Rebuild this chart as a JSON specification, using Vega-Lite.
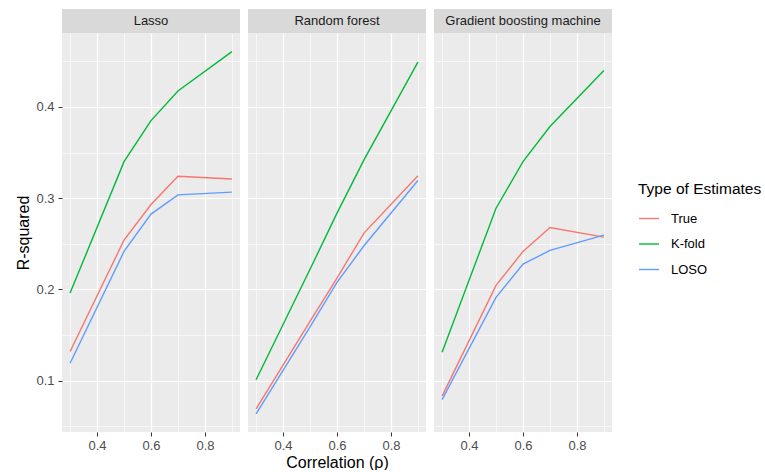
{
  "$schema": "https://vega.github.io/schema/vega-lite/v6.json",
  "padding": {"left": 15, "top": 9, "right": 0, "bottom": 0},
  "background": "white",
  "datasets": {
    "results": [
      {"model": "Lasso", "type": "True", "rho": 0.3, "r2": 0.132},
      {"model": "Lasso", "type": "True", "rho": 0.5, "r2": 0.254},
      {"model": "Lasso", "type": "True", "rho": 0.6, "r2": 0.293},
      {"model": "Lasso", "type": "True", "rho": 0.7, "r2": 0.324},
      {"model": "Lasso", "type": "True", "rho": 0.9, "r2": 0.321},
      {"model": "Lasso", "type": "K-fold", "rho": 0.3, "r2": 0.196},
      {"model": "Lasso", "type": "K-fold", "rho": 0.5, "r2": 0.340},
      {"model": "Lasso", "type": "K-fold", "rho": 0.6, "r2": 0.385},
      {"model": "Lasso", "type": "K-fold", "rho": 0.7, "r2": 0.4175},
      {"model": "Lasso", "type": "K-fold", "rho": 0.9, "r2": 0.4606},
      {"model": "Lasso", "type": "LOSO", "rho": 0.3, "r2": 0.119},
      {"model": "Lasso", "type": "LOSO", "rho": 0.5, "r2": 0.2416},
      {"model": "Lasso", "type": "LOSO", "rho": 0.6, "r2": 0.2825},
      {"model": "Lasso", "type": "LOSO", "rho": 0.7, "r2": 0.3036},
      {"model": "Lasso", "type": "LOSO", "rho": 0.9, "r2": 0.3066},
      {"model": "Random forest", "type": "True", "rho": 0.3, "r2": 0.069},
      {"model": "Random forest", "type": "True", "rho": 0.5, "r2": 0.165},
      {"model": "Random forest", "type": "True", "rho": 0.6, "r2": 0.2124},
      {"model": "Random forest", "type": "True", "rho": 0.7, "r2": 0.2617},
      {"model": "Random forest", "type": "True", "rho": 0.9, "r2": 0.3245},
      {"model": "Random forest", "type": "K-fold", "rho": 0.3, "r2": 0.101},
      {"model": "Random forest", "type": "K-fold", "rho": 0.5, "r2": 0.222},
      {"model": "Random forest", "type": "K-fold", "rho": 0.6, "r2": 0.2836},
      {"model": "Random forest", "type": "K-fold", "rho": 0.7, "r2": 0.342},
      {"model": "Random forest", "type": "K-fold", "rho": 0.9, "r2": 0.449},
      {"model": "Random forest", "type": "LOSO", "rho": 0.3, "r2": 0.0635},
      {"model": "Random forest", "type": "LOSO", "rho": 0.5, "r2": 0.159},
      {"model": "Random forest", "type": "LOSO", "rho": 0.6, "r2": 0.2077},
      {"model": "Random forest", "type": "LOSO", "rho": 0.7, "r2": 0.2478},
      {"model": "Random forest", "type": "LOSO", "rho": 0.9, "r2": 0.3193},
      {"model": "Gradient boosting machine", "type": "True", "rho": 0.3, "r2": 0.083},
      {"model": "Gradient boosting machine", "type": "True", "rho": 0.5, "r2": 0.2044},
      {"model": "Gradient boosting machine", "type": "True", "rho": 0.6, "r2": 0.2416},
      {"model": "Gradient boosting machine", "type": "True", "rho": 0.7, "r2": 0.2679},
      {"model": "Gradient boosting machine", "type": "True", "rho": 0.9, "r2": 0.2573},
      {"model": "Gradient boosting machine", "type": "K-fold", "rho": 0.3, "r2": 0.131},
      {"model": "Gradient boosting machine", "type": "K-fold", "rho": 0.5, "r2": 0.289},
      {"model": "Gradient boosting machine", "type": "K-fold", "rho": 0.6, "r2": 0.340},
      {"model": "Gradient boosting machine", "type": "K-fold", "rho": 0.7, "r2": 0.3785},
      {"model": "Gradient boosting machine", "type": "K-fold", "rho": 0.9, "r2": 0.440},
      {"model": "Gradient boosting machine", "type": "LOSO", "rho": 0.3, "r2": 0.0792},
      {"model": "Gradient boosting machine", "type": "LOSO", "rho": 0.5, "r2": 0.1912},
      {"model": "Gradient boosting machine", "type": "LOSO", "rho": 0.6, "r2": 0.2277},
      {"model": "Gradient boosting machine", "type": "LOSO", "rho": 0.7, "r2": 0.2427},
      {"model": "Gradient boosting machine", "type": "LOSO", "rho": 0.9, "r2": 0.2595}
    ]
  },
  "config": {
    "font": "Liberation Sans",
    "view": {"stroke": null},
    "axis": {
      "domain": false,
      "gridColor": "white",
      "gridOpacity": 1,
      "tickColor": "#333333",
      "tickWidth": 1,
      "tickSize": 4,
      "labelColor": "#4D4D4D",
      "labelFontSize": 13,
      "labelPadding": 3,
      "titleFontSize": 16,
      "titleFontWeight": "normal",
      "titleColor": "black"
    },
    "legend": {
      "orient": "none",
      "legendX": 576,
      "legendY": 173,
      "titleFontSize": 15.5,
      "titleFontWeight": "normal",
      "titleColor": "black",
      "titlePadding": 10,
      "labelFontSize": 13,
      "labelColor": "black",
      "labelOffset": 11,
      "symbolType": "stroke",
      "symbolSize": 400,
      "symbolStrokeWidth": 1.4,
      "rowPadding": 7.5
    }
  },
  "spacing": 8,
  "hconcat": [
    {
      "spacing": 0,
      "vconcat": [
        {
          "data": {"values": [{"model": "Lasso"}]},
          "width": 178, "height": 24,
          "view": {"fill": "#D9D9D9", "stroke": null},
          "mark": {"type": "text", "fontSize": 13, "color": "#1A1A1A"},
          "encoding": {"text": {"field": "model"}}
        },
        {
          "data": {"name": "results"},
          "transform": [{"filter": "datum.model === 'Lasso'"}],
          "width": 178, "height": 399,
          "view": {"fill": "#EBEBEB", "stroke": null},
          "mark": {"type": "line", "strokeWidth": 1.4},
          "encoding": {
            "x": {"field": "rho", "type": "quantitative",
              "scale": {"domain": [0.27, 0.93], "nice": false, "zero": false},
              "axis": {"title": null, "values": [0.3, 0.4, 0.5, 0.6, 0.7, 0.8, 0.9], "format": ".1f",
                "labelExpr": "abs(datum.value*5 - round(datum.value*5)) < 0.01 ? datum.label : ''",
                "tickOpacity": {"condition": {"test": "abs(datum.value*5 - round(datum.value*5)) < 0.01", "value": 1}, "value": 0},
                "gridWidth": {"condition": {"test": "abs(datum.value*5 - round(datum.value*5)) < 0.01", "value": 1.2}, "value": 0.6}}},
            "y": {"field": "r2", "type": "quantitative",
              "scale": {"domain": [0.0437, 0.481], "nice": false, "zero": false},
              "axis": {"title": "R-squared", "titlePadding": 4, "labelPadding": 4,
                "values": [0.05, 0.1, 0.15, 0.2, 0.25, 0.3, 0.35, 0.4, 0.45], "format": ".1f",
                "labelExpr": "abs(datum.value*10 - round(datum.value*10)) < 0.01 ? datum.label : ''",
                "tickOpacity": {"condition": {"test": "abs(datum.value*10 - round(datum.value*10)) < 0.01", "value": 1}, "value": 0},
                "gridWidth": {"condition": {"test": "abs(datum.value*10 - round(datum.value*10)) < 0.01", "value": 1.2}, "value": 0.6}}},
            "color": {"field": "type", "type": "nominal", "title": "Type of Estimates",
              "scale": {"domain": ["True", "K-fold", "LOSO"], "range": ["#F8766D", "#00BA38", "#619CFF"]}}
          }
        }
      ]
    },
    {
      "spacing": 0,
      "vconcat": [
        {
          "data": {"values": [{"model": "Random forest"}]},
          "width": 178, "height": 24,
          "view": {"fill": "#D9D9D9", "stroke": null},
          "mark": {"type": "text", "fontSize": 13, "color": "#1A1A1A"},
          "encoding": {"text": {"field": "model"}}
        },
        {
          "data": {"name": "results"},
          "transform": [{"filter": "datum.model === 'Random forest'"}],
          "width": 178, "height": 399,
          "view": {"fill": "#EBEBEB", "stroke": null},
          "mark": {"type": "line", "strokeWidth": 1.4},
          "encoding": {
            "x": {"field": "rho", "type": "quantitative",
              "scale": {"domain": [0.27, 0.93], "nice": false, "zero": false},
              "axis": {"title": "Correlation (ρ)", "titlePadding": 2, "values": [0.3, 0.4, 0.5, 0.6, 0.7, 0.8, 0.9], "format": ".1f",
                "labelExpr": "abs(datum.value*5 - round(datum.value*5)) < 0.01 ? datum.label : ''",
                "tickOpacity": {"condition": {"test": "abs(datum.value*5 - round(datum.value*5)) < 0.01", "value": 1}, "value": 0},
                "gridWidth": {"condition": {"test": "abs(datum.value*5 - round(datum.value*5)) < 0.01", "value": 1.2}, "value": 0.6}}},
            "y": {"field": "r2", "type": "quantitative",
              "scale": {"domain": [0.0437, 0.481], "nice": false, "zero": false},
              "axis": {"title": null, "labels": false, "ticks": false,
                "values": [0.05, 0.1, 0.15, 0.2, 0.25, 0.3, 0.35, 0.4, 0.45],
                "gridWidth": {"condition": {"test": "abs(datum.value*10 - round(datum.value*10)) < 0.01", "value": 1.2}, "value": 0.6}}},
            "color": {"field": "type", "type": "nominal", "title": "Type of Estimates",
              "scale": {"domain": ["True", "K-fold", "LOSO"], "range": ["#F8766D", "#00BA38", "#619CFF"]}}
          }
        }
      ]
    },
    {
      "spacing": 0,
      "vconcat": [
        {
          "data": {"values": [{"model": "Gradient boosting machine"}]},
          "width": 178, "height": 24,
          "view": {"fill": "#D9D9D9", "stroke": null},
          "mark": {"type": "text", "fontSize": 13, "color": "#1A1A1A"},
          "encoding": {"text": {"field": "model"}}
        },
        {
          "data": {"name": "results"},
          "transform": [{"filter": "datum.model === 'Gradient boosting machine'"}],
          "width": 178, "height": 399,
          "view": {"fill": "#EBEBEB", "stroke": null},
          "mark": {"type": "line", "strokeWidth": 1.4},
          "encoding": {
            "x": {"field": "rho", "type": "quantitative",
              "scale": {"domain": [0.27, 0.93], "nice": false, "zero": false},
              "axis": {"title": null, "values": [0.3, 0.4, 0.5, 0.6, 0.7, 0.8, 0.9], "format": ".1f",
                "labelExpr": "abs(datum.value*5 - round(datum.value*5)) < 0.01 ? datum.label : ''",
                "tickOpacity": {"condition": {"test": "abs(datum.value*5 - round(datum.value*5)) < 0.01", "value": 1}, "value": 0},
                "gridWidth": {"condition": {"test": "abs(datum.value*5 - round(datum.value*5)) < 0.01", "value": 1.2}, "value": 0.6}}},
            "y": {"field": "r2", "type": "quantitative",
              "scale": {"domain": [0.0437, 0.481], "nice": false, "zero": false},
              "axis": {"title": null, "labels": false, "ticks": false,
                "values": [0.05, 0.1, 0.15, 0.2, 0.25, 0.3, 0.35, 0.4, 0.45],
                "gridWidth": {"condition": {"test": "abs(datum.value*10 - round(datum.value*10)) < 0.01", "value": 1.2}, "value": 0.6}}},
            "color": {"field": "type", "type": "nominal", "title": "Type of Estimates",
              "scale": {"domain": ["True", "K-fold", "LOSO"], "range": ["#F8766D", "#00BA38", "#619CFF"]}}
          }
        }
      ]
    }
  ]
}
